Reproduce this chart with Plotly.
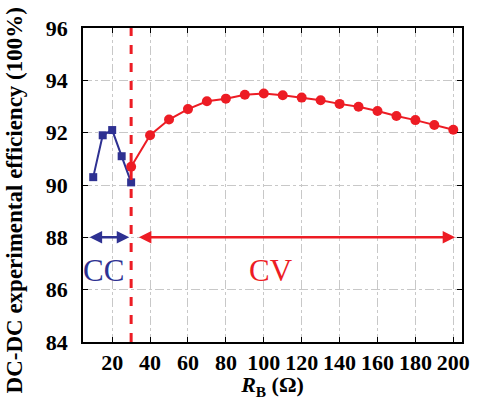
import plotly.graph_objects as go

cc_x = [10, 15, 20, 25, 30]
cc_y = [90.3, 91.9, 92.1, 91.1, 90.1]
cv_x = [30, 40, 50, 60, 70, 80, 90, 100, 110, 120, 130, 140, 150, 160, 170, 180, 190, 200]
cv_y = [90.7, 91.9, 92.5, 92.9, 93.2, 93.3, 93.45, 93.5, 93.43, 93.34, 93.24, 93.1, 92.99, 92.83, 92.64, 92.48, 92.29, 92.11]
x_ticks = [20, 40, 60, 80, 100, 120, 140, 160, 180, 200]
y_ticks = [84, 86, 88, 90, 92, 94, 96]
boundary_x = 30

BLUE = "#2e3192"
RED = "#ed1c24"
FONT = "Times New Roman, Liberation Serif, serif"

fig = go.Figure()
fig.add_trace(go.Scatter(x=cc_x, y=cc_y, mode="lines+markers",
                         line=dict(color=BLUE, width=2),
                         marker=dict(symbol="square", size=8, color=BLUE),
                         showlegend=False))
fig.add_trace(go.Scatter(x=cv_x, y=cv_y, mode="lines+markers",
                         line=dict(color=RED, width=2),
                         marker=dict(symbol="circle", size=10, color=RED),
                         showlegend=False))

fig.add_shape(type="line", x0=boundary_x, x1=boundary_x, y0=0, y1=1, yref="paper",
              line=dict(color=RED, width=3, dash="dash"))

# double-headed arrows
fig.add_annotation(x=29, y=88, ax=6.5, ay=88, xref="x", yref="y", axref="x", ayref="y",
                   showarrow=True, arrowhead=2, startarrowhead=2, arrowside="end+start",
                   arrowwidth=2.5, arrowcolor=BLUE, arrowsize=1, startarrowsize=1, text=" ")
fig.add_annotation(x=201, y=88, ax=32.5, ay=88, xref="x", yref="y", axref="x", ayref="y",
                   showarrow=True, arrowhead=2, startarrowhead=2, arrowside="end+start",
                   arrowwidth=2.5, arrowcolor=RED, arrowsize=1, startarrowsize=1, text=" ")

fig.add_annotation(x=15.5, y=86.75, text="CC", showarrow=False,
                   font=dict(family=FONT, size=31, color=BLUE))
fig.add_annotation(x=104, y=86.75, text="CV", showarrow=False,
                   font=dict(family=FONT, size=31, color=RED))

# y-axis title placed as a rotated annotation (centred on the whole figure height)
fig.add_annotation(x=-0.181, y=0.452, xref="paper", yref="paper", showarrow=False,
                   text="<b>DC-DC experimental efficiency (100%)</b>", textangle=-90,
                   xanchor="center", yanchor="middle",
                   font=dict(family=FONT, size=23, color="black"))

axis_common = dict(showline=True, linecolor="black", linewidth=1.5, mirror="ticks",
                   ticks="inside", ticklen=5, tickcolor="black",
                   showgrid=True, gridcolor="#c8c8c8", griddash="dashdot", gridwidth=1,
                   tickfont=dict(family=FONT, size=22, color="black", weight="bold"),
                   zeroline=False)

fig.update_xaxes(range=[4.6, 204.6], tickvals=x_ticks, **axis_common, ticklabelstandoff=0,
                 title=dict(text="<b><i>R</i><sub>B</sub> (Ω)</b>",
                            font=dict(family=FONT, size=22, color="black"), standoff=0))
fig.update_yaxes(range=[84, 96], tickvals=y_ticks, **axis_common, ticklabelstandoff=9)

fig.update_layout(width=478, height=400, margin=dict(l=83, r=8, t=28, b=58),
                  plot_bgcolor="white", paper_bgcolor="white")

fig.write_html("out.html")
